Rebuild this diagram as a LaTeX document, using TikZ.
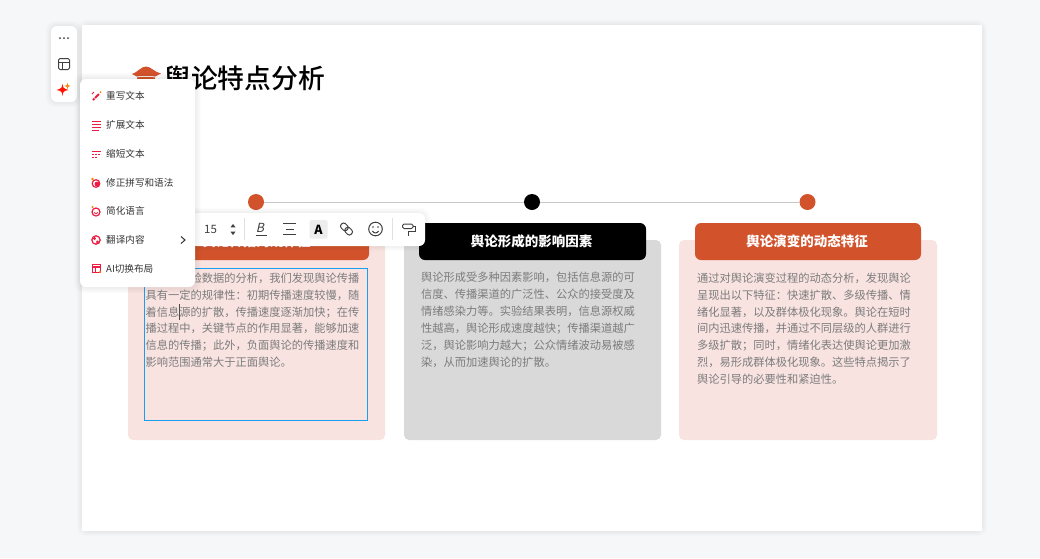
\documentclass[tikz,border=0pt]{standalone}
\usepackage{fontspec}
\usepackage{tikz}
\setmainfont{Noto Sans CJK SC}
\newfontfamily\titlefont{Noto Sans CJK SC Medium}
\definecolor{rustc}{HTML}{D2522C}
\definecolor{pinkc}{HTML}{F8E3E1}
\definecolor{grayc}{HTML}{D9D9D9}
\definecolor{bodyc}{HTML}{7C7C7C}
\definecolor{menuc}{HTML}{333333}
\definecolor{iconc}{HTML}{EE1C43}
\definecolor{toolc}{HTML}{404040}
\definecolor{bluec}{HTML}{1A9FF0}
\definecolor{backc}{HTML}{F6F7F9}
\tikzset{
  card/.style={rounded corners=5pt},
  header/.style={rounded corners=6pt},
  dotmark/.style={circle,inner sep=0pt,minimum size=16pt},
  headtext/.style={font=\fontsize{13.5}{16}\selectfont\bfseries,text=white,inner sep=0pt},
  bodytext/.style={font=\fontsize{11.25}{16.9}\selectfont,text=bodyc,align=left,anchor=north west,inner sep=0pt},
  menutext/.style={font=\fontsize{9.6}{12}\selectfont,text=menuc,anchor=west,inner sep=0pt},
  panel/.style={fill=white,rounded corners=6pt},
  haze/.style={fill=black,fill opacity=.012,rounded corners=9pt},
  toolline/.style={draw=toolc,line width=1pt},
  iconline/.style={draw=iconc,line width=1.2pt},
}
\begin{document}
\begin{tikzpicture}[x=1pt,y=-1pt]
\useasboundingbox (0,0) rectangle (1040,558);
\fill[backc] (0,0) rectangle (1040,558);

% slide
\foreach \g in {1,2,3,4,5} {\fill[haze] (82-\g,25-\g) rectangle (982+\g,531+\g);}
\fill[white] (82,25) rectangle (982,531);
\fill[rustc] (132,74) .. controls (138,72) and (141,66.5) .. (146,66.5) .. controls (151,66.5) and (154,72) .. (161,73.5) -- (155,76.5) .. controls (150,75.5) and (142,75.5) .. (137,76.5) -- cycle;
\fill[rustc] (137,77.5) .. controls (142,76.5) and (150,76.5) .. (155,77.5) -- (155,90) -- (137,90) -- cycle;
\node[font=\fontsize{26.8}{30}\selectfont\titlefont,anchor=west,inner sep=0pt] (slidetitle) at (164,78) {舆论特点分析};

% timeline
\node[dotmark,fill=rustc] (dotone) at (256,202) {};
\node[dotmark,fill=black] (dottwo) at (532,202) {};
\node[dotmark,fill=rustc] (dotthree) at (807.5,202) {};
\draw[draw=black!22,line width=.8pt] (dotone) -- (dottwo);
\draw[draw=black!22,line width=.8pt] (dottwo) -- (dotthree);

% cards
\fill[card,pinkc] (128,240) rectangle (385,440);
\fill[card,grayc] (404,240) rectangle (661,440);
\fill[card,pinkc] (679,240) rectangle (937,440);
\fill[header,rustc] (144,223) rectangle (369,260);
\fill[header,black] (419,223) rectangle (646,260);
\fill[header,rustc] (695,223) rectangle (921,260);
\node[headtext] (headone) at (256.5,241) {舆论传播的规律性};
\node[headtext] (headtwo) at (531.5,241) {舆论形成的影响因素};
\node[headtext] (headthree) at (807,241) {舆论演变的动态特征};

\node[bodytext] (bodyone) at (145.5,272.5) {通过对实验数据的分析，我们发现舆论传播\\具有一定的规律性：初期传播速度较慢，随\\着信息源的扩散，传播速度逐渐加快；在传\\播过程中，关键节点的作用显著，能够加速\\信息的传播；此外，负面舆论的传播速度和\\影响范围通常大于正面舆论。};
\node[bodytext] (bodytwo) at (421,272) {舆论形成受多种因素影响，包括信息源的可\\信度、传播渠道的广泛性、公众的接受度及\\情绪感染力等。实验结果表明，信息源权威\\性越高，舆论形成速度越快；传播渠道越广\\泛，舆论影响力越大；公众情绪波动易被感\\染，从而加速舆论的扩散。};
\node[bodytext] (bodythree) at (697,272.5) {通过对舆论演变过程的动态分析，发现舆论\\呈现出以下特征：快速扩散、多级传播、情\\绪化显著，以及群体极化现象。舆论在短时\\间内迅速传播，并通过不同层级的人群进行\\多级扩散；同时，情绪化表达使舆论更加激\\烈，易形成群体极化现象。这些特点揭示了\\舆论引导的必要性和紧迫性。};

% selection box and caret
\draw[bluec,line width=.9pt] (144.5,268.5) rectangle (367,420.5);
\draw[black!70,line width=.6pt] (179.5,304) -- (179.5,320);

% text toolbar
\foreach \g in {1,2,3,4,5} {\fill[haze] (150-\g,213-\g) rectangle (425+\g,246+\g);}
\fill[panel] (150,213) rectangle (425,246);
\node[font=\fontsize{11.5}{13}\selectfont,text=toolc,inner sep=0pt] (sizeval) at (210.5,229) {15};
\fill[toolc] (233,224) -- (235.5,227.3) -- (230.5,227.3) -- cycle;
\fill[toolc] (233,235) -- (235.5,231.7) -- (230.5,231.7) -- cycle;
\draw[black!12,line width=.7pt] (244.5,218) -- (244.5,240);
\draw[black!12,line width=.7pt] (392.5,218) -- (392.5,240);
\node[font=\fontsize{12.5}{14}\selectfont,text=toolc,inner sep=0pt,xslant=.22] (boldmark) at (261,227.5) {B};
\draw[toolline] (255.5,235.5) -- (266.5,235.5);
\draw[toolline] (283,223.5) -- (296,223.5);
\draw[toolline] (285.5,229) -- (293.5,229);
\draw[toolline] (283,234.5) -- (296,234.5);
\fill[black!7,rounded corners=1.5pt] (309.5,220) rectangle (327.5,238.5);
\node[font=\fontsize{12.5}{14}\selectfont\bfseries,text=black,inner sep=0pt] (colormark) at (318.5,229.5) {A};
\draw[toolline,rotate around={-45:(346.5,229)},rounded corners=2.5pt] (339.5,226) rectangle (347.5,232);
\draw[toolline,rotate around={-45:(346.5,229)},rounded corners=2.5pt] (345.5,226) rectangle (353.5,232);
\draw[toolline] (375.5,229) circle (6.8pt);
\fill[toolc] (373,227) circle (.9pt);
\fill[toolc] (378,227) circle (.9pt);
\draw[toolline] (372.3,231) .. controls (374,233.6) and (377,233.6) .. (378.7,231);
\draw[toolline,rounded corners=1.5pt] (402.5,224) rectangle (413,228.5);
\draw[toolline] (413,226) -- (415,226) -- (415,231) -- (408,231) -- (408,236);

% side toolbar
\foreach \g in {1,2,3,4,5} {\fill[haze] (51-\g,26-\g) rectangle (77+\g,102+\g);}
\fill[panel] (51,26) rectangle (77,102);
\fill[toolc] (60,38) circle (1pt);
\fill[toolc] (64,38) circle (1pt);
\fill[toolc] (68,38) circle (1pt);
\draw[toolline,rounded corners=1.5pt] (58.5,58.5) rectangle (69.5,69.5);
\draw[toolline] (58.5,62.5) -- (69.5,62.5);
\draw[toolline] (62.5,62.5) -- (62.5,69.5);
\fill[red!85!orange] (62.5,83.5) .. controls (63,88) and (63.5,88.5) .. (68.5,90) .. controls (63.5,91) and (63,91.5) .. (62.5,96) .. controls (62,91.5) and (61.5,91) .. (56.5,90) .. controls (61.5,88.5) and (62,88) .. (62.5,83.5);
\fill[orange] (67.5,83) -- (68.3,85.2) -- (70.5,86) -- (68.3,86.8) -- (67.5,89) -- (66.7,86.8) -- (64.5,86) -- (66.7,85.2) -- cycle;

% ai menu
\foreach \g in {1,2,3,4,5,6} {\fill[haze] (80-\g,79-\g) rectangle (195+\g,287+\g);}
\fill[panel] (80,79) rectangle (195,287);
\node[menutext] (itemone) at (106,95.5) {重写文本};
\node[menutext] (itemtwo) at (106,124.5) {扩展文本};
\node[menutext] (itemthree) at (106,153.5) {缩短文本};
\node[menutext] (itemfour) at (106,182.5) {修正拼写和语法};
\node[menutext] (itemfive) at (106,211) {简化语言};
\node[menutext] (itemsix) at (106,239.5) {翻译内容};
\node[menutext] (itemseven) at (106,268.5) {AI切换布局};
\draw[iconline,line width=2pt] (93,100) -- (99,94);
\draw[white,line width=.6pt] (93.5,97) -- (96,99.5);
\draw[iconline,line width=.9pt] (92,94) -- (94,92);
\fill[orange] (100.5,92) circle (1pt);
\draw[iconline,line width=1pt] (92,121) -- (101,121);
\draw[iconline,line width=1pt] (92,124) -- (101,124);
\draw[iconline,line width=1pt] (92,127) -- (101,127);
\draw[iconline,line width=1pt] (92,130) -- (99,130);
\draw[iconline,line width=1pt] (92,151) -- (101,151);
\draw[iconline,line width=1pt,dash pattern=on 2pt off 1pt] (92,154) -- (101,154);
\draw[iconline,line width=1pt,dash pattern=on 2pt off 1pt] (92,157) -- (97,157);
\draw[iconline] (96,183.5) circle (3.8pt);
\fill[iconc] (97,184) circle (2.4pt);
\fill[orange] (92.5,179) circle (1.3pt);
\draw[iconline] (96,212) circle (4pt);
\draw[iconline,line width=.9pt] (94,212.5) .. controls (95,214) and (97,214) .. (98,212.5);
\fill[orange] (92.5,207) circle (1.2pt);
\draw[iconline] (96,240) circle (4.2pt);
\fill[iconc] (94.5,238.5) circle (1.6pt);
\fill[iconc] (97.5,242) circle (1.6pt);
\draw[iconline] (92.5,264.5) rectangle (100.5,272.5);
\draw[iconline] (92.5,267) -- (100.5,267);
\draw[iconline,line width=.9pt] (95.5,267) -- (95.5,272.5);
\fill[orange] (100,272) circle (1.2pt);
\draw[draw=menuc,line width=1pt] (181,236.5) -- (185,240) -- (181,243.5);
\end{tikzpicture}
\end{document}
